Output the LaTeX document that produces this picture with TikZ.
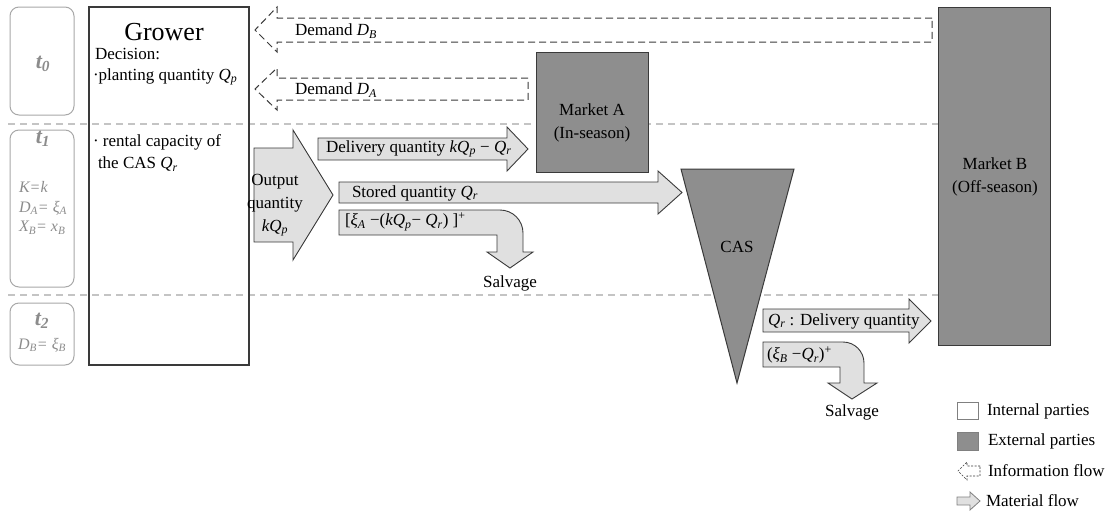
\documentclass[tikz,border=0pt]{standalone}
\usepackage{fontspec}
\setmainfont{Liberation Serif}
\definecolor{arrowfill}{HTML}{E0E0E0}
\definecolor{extfill}{HTML}{8E8E8E}
\definecolor{sepgray}{HTML}{C4C4C4}
\definecolor{tgray}{HTML}{A8A8A8}
\definecolor{ttext}{HTML}{8C8C8C}
\definecolor{edge}{HTML}{3A3A3A}
\newcommand\vsub[2]{\textit{#1}\textsubscript{\textit{#2}}}
\begin{document}
\begin{tikzpicture}[x=1pt,y=-1pt,
  every node/.style={inner sep=0pt, outer sep=0pt},
  lbl/.style={font=\fontsize{17}{23}\selectfont, text=black},
  party/.style={draw=edge, line width=1pt},
  extparty/.style={party, fill=extfill},
  sepline/.style={draw=sepgray, line width=1.2pt, dash pattern=on 7pt off 5pt},
  info/.style={draw=edge, line width=1pt, dash pattern=on 7pt off 4pt},
  matl/.style={draw=edge, line width=0.9pt, fill=arrowfill, line join=miter},
  tbox/.style={draw=tgray, line width=1pt, rounded corners=9pt},
  tlab/.style={font=\fontsize{22}{24}\selectfont\bfseries\itshape, text=ttext},
  tval/.style={font=\fontsize{16}{19.5}\selectfont\itshape, text=ttext, align=left},
]
\useasboundingbox (0,0) rectangle (1114,512);

% period separators
\draw[sepline] (8,124) -- (938,124);
\draw[sepline] (8,295) -- (938,295);

% period boxes
\node[tbox, minimum width=64pt, minimum height=108pt, anchor=north west] (t0box) at (10,7) {};
\node[tbox, minimum width=64pt, minimum height=157pt, anchor=north west] (t1box) at (10,130) {};
\node[tbox, minimum width=64pt, minimum height=62pt, anchor=north west] (t2box) at (10,303) {};
\node[tlab] (t0) at (43,64) {t\textsubscript{0}};
\node[tlab] (t1) at (43,139) {t\textsubscript{1}};
\node[tval] (t1v) at (43,208) {K=k\\D\textsubscript{A}= ξ\textsubscript{A}\\X\textsubscript{B}= x\textsubscript{B}};
\node[tlab] (t2) at (42,321) {t\textsubscript{2}};
\node[tval] (t2v) at (42,345) {D\textsubscript{B}= ξ\textsubscript{B}};

% grower
\node[party, line width=1.2pt, minimum width=160pt, minimum height=358pt, anchor=north west] (grower) at (89,7) {};
\node[lbl, font=\fontsize{26}{28}\selectfont] (growert) at (164,32) {Grower};
\node[lbl, anchor=west] (dec) at (95,54) {Decision:};
\node[lbl, anchor=west] (dec1) at (93,77) {·planting quantity \vsub{Q}{p}};
\node[lbl, anchor=west] (dec2) at (93,142) {· rental capacity of};
\node[lbl, anchor=west] (dec3) at (98,164) {the CAS \vsub{Q}{r}};

% markets
\node[extparty, minimum width=112pt, minimum height=120pt, anchor=north west] (mA) at (536,52) {};
\node[lbl, align=center] (mAt) at (592,123) {Market A\\(In-season)};
\node[extparty, minimum width=112pt, minimum height=338pt, anchor=north west] (mB) at (938,7) {};
\node[lbl, align=center] (mBt) at (995,177) {Market B\\(Off-season)};

% information flows
\draw[info] (932,18) -- (277,18) -- (277,7) -- (255,30) -- (277,52) -- (277,42) -- (932,42) -- cycle;
\node[lbl, anchor=west] (dB) at (295,31) {Demand \vsub{D}{B}};
\draw[info] (528,78) -- (277,78) -- (277,68) -- (255,89) -- (277,110) -- (277,100) -- (528,100) -- cycle;
\node[lbl, anchor=west] (dA) at (295,90) {Demand \vsub{D}{A}};

% material flows
\draw[matl] (254,148) -- (293,148) -- (293,130) -- (333,195) -- (293,260) -- (293,242) -- (254,242) -- cycle;
\node[lbl, align=center] (outq) at (275,205) {Output\\quantity\\\textit{kQ}\textsubscript{\textit{p}}};

\draw[matl] (318,138) -- (507,138) -- (507,127) -- (528,149) -- (507,171) -- (507,160) -- (318,160) -- cycle;
\node[lbl, anchor=west] (delq) at (326,149) {Delivery quantity \textit{kQ}\textsubscript{\textit{p}} − \vsub{Q}{r}};

\draw[matl] (339,182) -- (658,182) -- (658,171) -- (682,192.5) -- (658,214) -- (658,203) -- (339,203) -- cycle;
\node[lbl, anchor=west] (stq) at (352,193) {Stored quantity \vsub{Q}{r}};

\draw[matl] (339,210) -- (500,210) .. controls (512.7,210) and (523,220.3) .. (523,233) -- (523,252) -- (533,252) -- (510,268) -- (487,252) -- (497,252) -- (497,235) -- (339,235) -- cycle;
\node[lbl, anchor=west] (salq1) at (345,222) {[\vsub{ξ}{A} −(\textit{kQ}\textsubscript{\textit{p}}− \vsub{Q}{r}) ]\textsuperscript{+}};
\node[lbl] (salv1) at (510,283) {Salvage};

% CAS
\draw[extparty] (681,169) -- (794,169) -- (737,383) -- cycle;
\node[lbl] (cas) at (737,247) {CAS};

\draw[matl] (763,309) -- (909,309) -- (909,299) -- (931,321) -- (909,343) -- (909,332) -- (763,332) -- cycle;
\node[lbl, anchor=west] (qrd) at (768,321) {\vsub{Q}{r} : Delivery quantity};

\draw[matl] (763,342) -- (843,342) .. controls (854.6,342) and (864,351.4) .. (864,363) -- (864,383) -- (877,383) -- (852,399) -- (828,383) -- (840,383) -- (840,367) -- (763,367) -- cycle;
\node[lbl, anchor=west] (salq2) at (767,355) {(\vsub{ξ}{B} −\vsub{Q}{r})\textsuperscript{+}};
\node[lbl] (salv2) at (852,412) {Salvage};

% legend
\draw[draw=gray, line width=0.8pt, fill=white] (957,402) rectangle (978,419);
\node[lbl, anchor=west] (lg1) at (987,411) {Internal parties};
\draw[draw=gray, line width=0.8pt, fill=extfill] (957,432) rectangle (978,450);
\node[lbl, anchor=west] (lg2) at (988,441) {External parties};
\draw[draw=edge, line width=0.6pt, dash pattern=on 2pt off 1.5pt] (980,466) -- (967,466) -- (967,462) -- (958,471) -- (967,480) -- (967,476) -- (980,476) -- cycle;
\node[lbl, anchor=west] (lg3) at (988,471) {Information flow};
\draw[draw=gray, line width=0.8pt, fill=arrowfill] (957,497) -- (970,497) -- (970,492) -- (980,501) -- (970,510) -- (970,505) -- (957,505) -- cycle;
\node[lbl, anchor=west] (lg4) at (986,501) {Material flow};
\end{tikzpicture}
\end{document}
